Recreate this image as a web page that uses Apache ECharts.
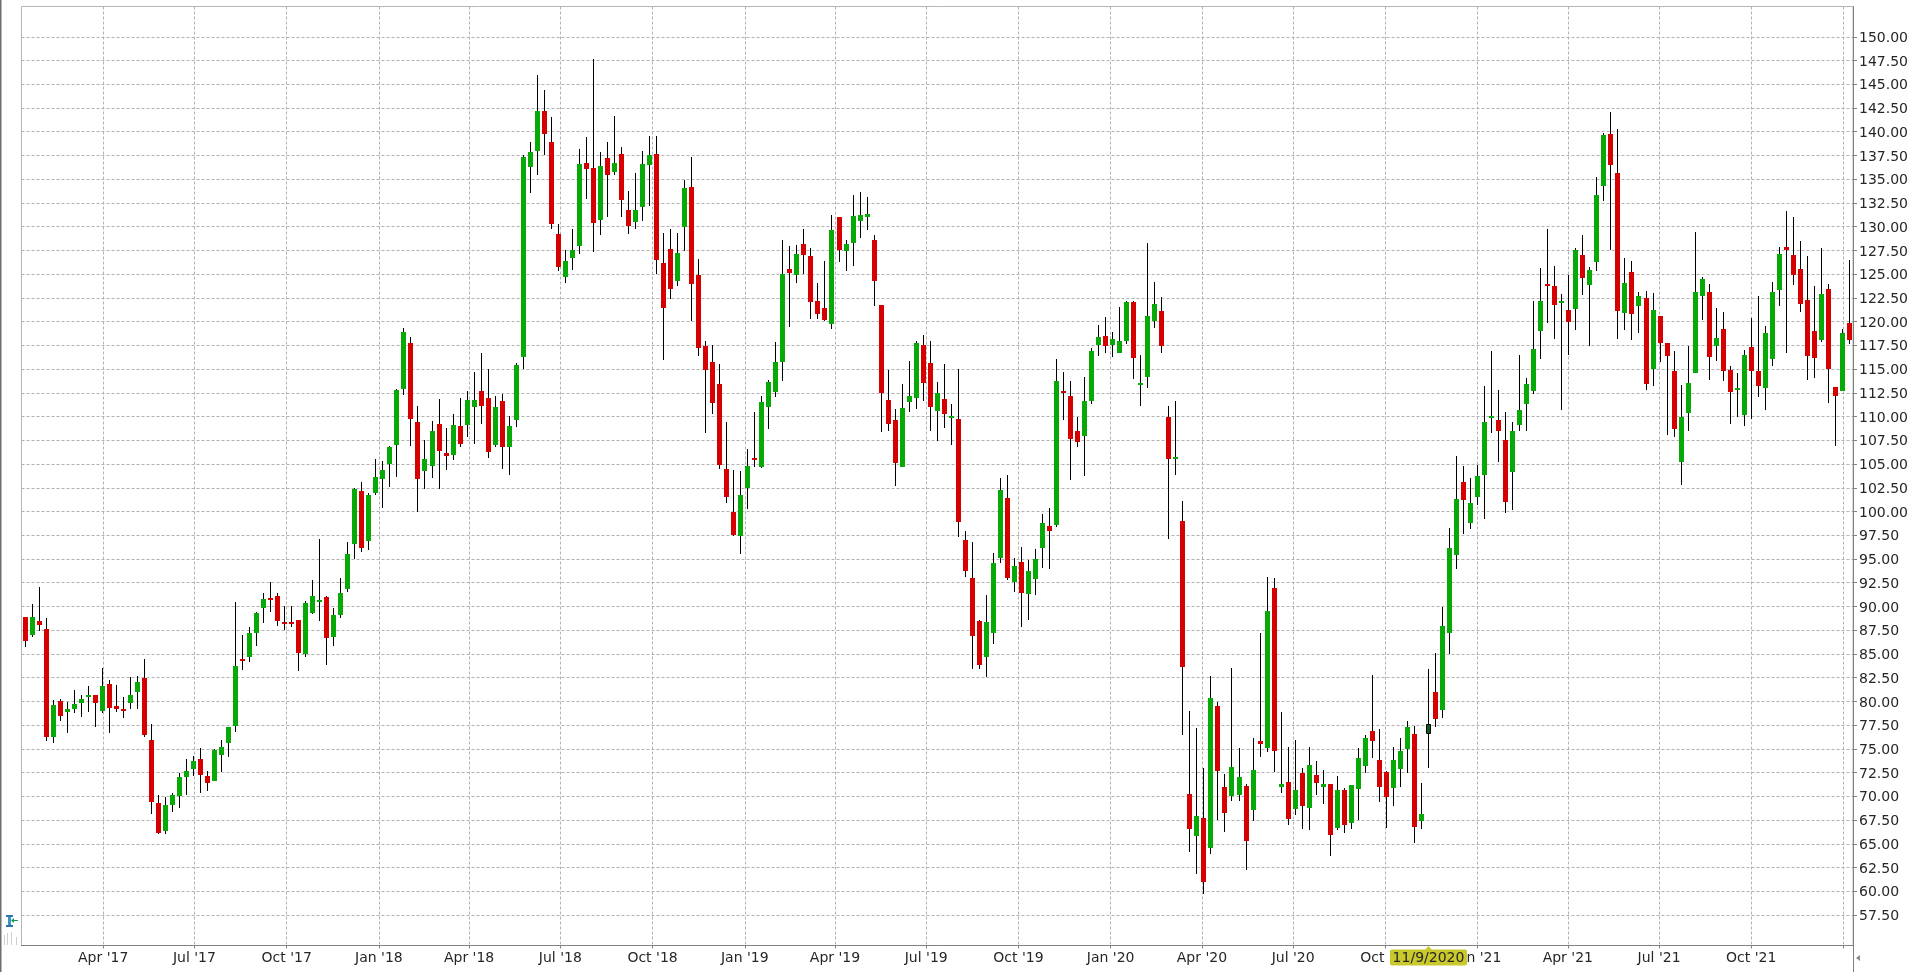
<!DOCTYPE html>
<html>
<head>
<meta charset="utf-8">
<title>Weekly candles</title>
<style>
  html, body { margin: 0; padding: 0; background: #fff; }
  #chart { width: 1911px; height: 972px; }
</style>
<script src="https://cdn.jsdelivr.net/npm/echarts@6/dist/echarts.min.js"></script>
</head>
<body>
<div id="chart"></div>
<script>
// weekly bars, oldest first
const opens = [
  88.93,87.04,88.51,87.67,76.23,80.09,78.86,79.17,79.80,80.54,
  80.72,78.96,81.88,79.56,79.24,79.80,80.96,82.51,75.98,69.35,
  66.33,69.14,70.01,72.01,72.86,73.98,72.19,71.59,74.40,75.59,
  77.38,84.51,84.65,87.18,89.81,90.93,91.14,88.41,88.41,88.62,
  84.97,89.28,90.44,91.04,86.76,89.07,91.81,96.62,102.16,96.86,
  101.95,103.43,105.01,107.01,112.90,117.74,109.43,104.27,104.79,109.22,
  106.16,105.95,109.01,109.11,111.00,112.69,111.95,107.01,111.64,106.80,
  109.64,116.27,136.27,137.96,142.17,138.90,129.22,124.69,126.69,127.95,
  136.69,136.17,130.69,137.22,135.74,137.64,131.74,130.48,132.06,136.48,
  137.64,126.16,127.64,124.27,129.95,134.17,124.90,117.43,115.74,113.43,
  104.48,99.98,97.45,102.51,105.66,104.72,111.03,112.61,115.77,125.56,
  124.93,128.19,126.93,122.19,121.45,119.77,131.04,127.45,128.30,130.61,
  131.04,128.61,121.77,111.77,109.66,104.72,111.56,111.98,117.56,115.67,
  110.61,111.88,109.88,109.77,97.03,93.03,88.46,84.67,87.20,95.14,
  101.45,92.61,94.72,91.35,92.93,96.19,98.51,98.61,112.72,112.19,
  108.51,107.98,111.64,117.53,118.48,117.53,116.69,117.96,122.06,113.32,
  114.16,120.06,121.11,109.95,105.53,99.01,70.22,65.80,67.69,64.53,
  79.48,70.95,70.01,70.11,71.06,68.53,75.80,75.06,91.90,70.95,
  71.48,68.64,72.43,68.74,72.22,70.95,71.27,66.64,70.64,67.17,
  70.74,73.17,76.85,73.80,72.53,70.85,72.85,74.95,76.53,67.38,
  76.53,80.95,79.06,87.20,95.43,103.06,98.75,101.48,103.80,109.80,
  109.59,107.48,104.11,109.12,111.33,112.70,119.01,123.96,123.75,121.96,
  121.23,121.33,127.01,123.86,126.28,134.28,139.75,135.65,120.91,125.23,
  121.65,122.49,115.01,120.59,117.75,114.80,105.22,110.38,114.59,122.70,
  123.12,117.43,119.22,114.91,112.80,110.17,117.33,114.80,113.02,116.07,
  123.33,127.86,127.01,125.54,122.28,119.01,118.07,123.43,113.12,112.70,119.86
]
const closes = [
  86.33,88.93,88.02,76.23,79.67,78.44,79.24,79.77,80.30,80.72,
  79.80,81.67,79.28,79.17,78.96,80.72,82.09,76.44,69.38,66.12,
  69.14,70.19,72.08,72.72,73.77,72.29,71.38,74.93,75.24,77.35,
  83.77,84.33,87.25,89.35,90.83,90.76,88.44,88.23,88.23,85.07,
  90.41,91.14,90.72,86.65,89.14,91.46,95.56,102.37,96.13,101.74,
  103.64,104.37,106.80,112.79,118.90,109.74,103.43,105.53,108.48,106.37,
  105.85,109.11,107.11,111.74,111.74,111.11,106.27,111.00,106.80,109.01,
  115.43,137.32,137.85,142.17,139.74,130.27,125.74,126.37,127.53,136.59,
  136.06,130.38,136.38,135.43,136.69,132.80,130.06,131.74,136.59,137.53,
  126.48,121.43,123.43,127.22,134.06,123.95,117.22,114.90,111.43,104.90,
  101.53,97.56,101.77,104.82,105.45,111.56,113.66,115.77,125.03,125.14,
  127.14,127.03,122.09,120.82,120.19,129.67,127.56,128.19,131.14,131.25,
  131.35,124.30,112.51,109.24,105.14,110.93,112.19,117.77,113.56,111.03,
  112.51,110.30,110.09,98.93,93.77,86.91,83.82,88.35,94.61,102.30,
  93.03,94.30,91.45,93.77,95.03,98.82,97.98,113.77,112.51,107.66,
  107.35,111.66,116.90,118.38,117.43,118.17,117.96,122.06,116.17,113.53,
  120.59,121.85,117.43,105.53,105.74,83.64,66.53,67.90,60.95,80.32,
  72.64,68.22,73.06,72.01,65.27,72.74,75.48,89.48,74.74,71.27,
  67.59,70.64,68.95,73.27,71.38,71.27,65.90,70.64,66.95,71.17,
  74.01,76.11,75.80,70.95,69.90,73.80,74.74,77.27,66.74,68.11,
  77.59,78.11,87.90,96.16,101.32,101.17,100.85,103.69,109.38,110.01,
  108.43,100.95,108.43,110.70,113.44,117.12,122.17,123.75,121.75,122.17,
  119.96,127.54,124.60,125.44,133.33,139.65,136.49,121.12,124.07,120.80,
  122.70,113.44,121.23,117.75,116.38,108.70,109.96,113.54,123.12,124.49,
  116.28,118.28,114.80,112.59,113.02,116.49,114.80,113.22,118.80,123.12,
  127.12,127.54,124.91,121.86,116.38,116.17,122.91,115.01,112.17,118.80,118.07
]
const lows = [
  85.70,86.76,87.39,75.80,75.59,77.98,76.65,78.75,78.33,78.86,
  77.28,78.75,76.65,78.86,78.23,79.17,79.17,76.23,68.12,66.01,
  66.01,68.33,68.75,70.19,72.12,70.33,70.54,71.59,72.61,74.12,
  76.75,83.28,84.12,85.81,88.23,89.39,87.91,87.49,87.81,83.18,
  84.68,89.18,88.44,83.81,85.81,88.76,91.49,94.97,95.71,95.92,
  101.74,100.37,102.58,103.64,112.27,106.90,99.95,102.37,103.53,102.37,
  104.37,105.43,106.80,107.85,107.11,109.22,105.64,106.80,104.48,103.85,
  108.90,115.01,133.53,135.43,137.53,129.74,125.32,124.06,125.43,127.11,
  132.90,127.32,129.11,131.01,135.43,131.01,129.22,129.74,130.59,132.17,
  125.01,115.95,122.37,123.74,127.43,120.06,116.38,108.27,110.27,104.48,
  100.90,97.38,95.56,100.29,104.72,104.61,108.72,112.09,113.77,119.45,
  124.09,125.03,120.30,120.30,120.09,119.24,126.30,125.35,125.88,128.82,
  129.67,121.66,108.40,108.51,102.72,104.72,110.51,110.82,111.67,108.51,
  107.45,108.82,107.03,97.35,93.14,83.40,83.40,82.56,86.03,94.61,
  92.82,91.56,87.87,88.61,91.24,94.09,93.98,98.40,109.66,103.35,
  106.82,103.77,111.32,116.38,116.69,116.27,116.69,117.64,113.95,111.11,
  113.01,119.32,116.69,97.11,103.85,76.43,64.11,61.80,59.69,63.90,
  67.48,66.22,69.48,69.48,62.22,67.38,74.11,74.64,72.53,70.32,
  66.95,68.01,66.53,66.43,70.11,69.17,63.69,66.43,66.11,66.53,
  67.48,72.43,74.01,69.38,66.64,68.95,70.95,72.43,65.06,66.53,
  72.95,77.27,78.22,85.00,93.95,97.59,98.11,100.64,99.17,108.22,
  105.17,99.80,100.21,108.49,108.49,112.38,116.07,119.86,118.17,110.70,
  116.49,119.12,122.81,117.43,125.33,132.70,127.54,118.17,119.12,118.07,
  118.80,112.80,113.22,115.75,108.07,107.86,102.80,108.49,114.59,120.17,
  113.86,115.86,113.75,109.22,109.96,109.01,109.75,112.07,110.70,115.33,
  121.65,116.70,123.86,121.02,113.86,114.07,117.86,111.43,106.91,112.70,117.65
]
const highs = [
  88.93,90.30,92.09,88.83,80.19,80.30,79.98,81.25,80.72,81.67,
  80.72,83.56,82.30,81.77,80.51,82.61,82.72,84.51,77.66,70.19,
  69.98,70.40,72.51,73.98,74.30,75.14,72.72,75.00,75.98,77.35,
  90.51,87.04,87.88,89.46,91.46,92.62,91.46,90.09,90.09,88.62,
  90.62,92.83,97.10,91.14,89.88,93.04,96.83,102.50,103.11,101.95,
  105.53,105.32,106.90,112.90,119.32,118.37,111.11,107.53,109.53,111.85,
  108.79,110.27,111.95,112.69,114.69,116.69,115.01,112.16,112.37,110.06,
  115.64,137.53,138.90,145.96,144.38,141.53,130.27,127.53,129.74,138.17,
  139.43,147.71,137.85,138.90,141.64,138.38,133.74,135.64,137.96,139.53,
  139.53,129.32,129.74,129.32,134.90,137.32,126.59,117.95,117.53,115.53,
  109.43,104.40,104.30,106.61,110.51,112.19,113.87,117.88,128.61,127.98,
  128.09,129.77,127.77,124.09,126.40,131.25,131.04,128.61,133.35,133.67,
  133.14,129.14,121.77,114.93,110.82,113.45,115.88,117.98,118.61,117.98,
  113.66,115.56,111.35,115.03,97.98,96.82,88.56,91.24,95.66,103.56,
  103.87,95.14,96.30,94.93,96.09,99.77,100.40,116.09,114.72,113.77,
  109.98,114.19,117.22,119.64,120.48,118.90,121.53,122.17,122.17,116.48,
  128.27,124.17,122.59,111.11,111.64,101.11,78.95,77.17,72.95,82.64,
  79.90,72.32,83.48,75.06,71.27,76.11,87.17,93.06,92.96,78.85,
  75.17,75.90,72.95,75.17,73.69,72.74,71.27,72.11,70.85,71.17,
  75.06,76.43,82.74,77.06,72.64,75.17,76.11,77.90,77.38,71.38,
  83.38,85.06,89.90,98.27,105.85,104.75,103.48,104.95,113.17,116.95,
  112.85,110.53,109.38,116.49,114.07,122.17,125.65,129.75,125.86,122.91,
  124.91,127.75,129.12,125.75,135.22,139.86,142.07,140.28,126.70,126.38,
  123.12,123.22,123.01,120.59,117.75,116.91,113.33,117.43,129.43,124.70,
  123.96,121.44,121.02,115.33,114.59,117.01,120.38,122.70,119.54,124.17,
  127.86,131.65,131.02,128.49,126.91,123.75,127.75,123.96,113.12,119.22,126.49
]

// price ticks
const priceTicks = [
  57.5,60,62.5,65,67.5,70,72.5,75,77.5,80,82.5,85,87.5,90,92.5,95,97.5,100,102.5,105,
  107.5,110,112.5,115,117.5,120,122.5,125,127.5,130,132.5,135,137.5,140,142.5,145,147.5,150
]
// quarter starts, the last one has a grid line but no label in the picture
const quarterDates = [
  '2017-04-01','2017-07-01','2017-10-01','2018-01-01','2018-04-01','2018-07-01','2018-10-01',
  '2019-01-01','2019-04-01','2019-07-01','2019-10-01','2020-01-01','2020-04-01','2020-07-01',
  '2020-10-01','2021-01-01','2021-04-01','2021-07-01','2021-10-01','2022-01-01'
]
const quarterLabels = [
  "Apr '17","Jul '17","Oct '17","Jan '18","Apr '18","Jul '18","Oct '18",
  "Jan '19","Apr '19","Jul '19","Oct '19","Jan '20","Apr '20","Jul '20",
  "Oct '20","Jan '21","Apr '21","Jul '21","Oct '21"
]
const selectedIndex = 200
const selectedLabel = '11/9/2020'

const weekIndexes = opens.map((o, i) => i)
const candleData = opens.map((o, i) => [i, o, closes[i], lows[i], highs[i]])
const quarterTicks = quarterDates.map(d => +new Date(d))

const UP_COLOR = '#06a906'
const DOWN_COLOR = '#d60000'
const GRID_LINE = { color: '#b2b2b2', width: 1, type: [3, 2] }
const FONT = 'DejaVu Sans'

const renderCandle = (params, api) => {
  const i = api.value(0)
  const open = api.value(1)
  const close = api.value(2)
  const x = Math.floor(api.coord([i, open])[0])
  const yOpen = Math.round(api.coord([i, open])[1])
  const yClose = Math.round(api.coord([i, close])[1])
  const yLow = Math.round(api.coord([i, api.value(3)])[1])
  const yHigh = Math.round(api.coord([i, api.value(4)])[1])
  const top = Math.min(yOpen, yClose)
  const height = Math.max(2, Math.abs(yOpen - yClose))
  const body = i === selectedIndex
    ? { type: 'rect', shape: { x: x - 1.5, y: top + 0.5, width: 4, height: height - 1 }, style: { fill: '#0f5c1c', stroke: '#000', lineWidth: 1 } }
    : { type: 'rect', shape: { x: x - 2, y: top, width: 5, height: height }, style: { fill: close >= open ? UP_COLOR : DOWN_COLOR } }
  return {
    type: 'group',
    children: [
      { type: 'rect', shape: { x: x, y: yHigh, width: 1, height: yLow - yHigh }, style: { fill: '#000' } },
      body
    ]
  }
}

const chart = echarts.init(document.getElementById('chart'), null, { renderer: 'canvas' })
chart.setOption({
  animation: false,
  backgroundColor: '#fff',
  grid: { left: 21.5, top: 6.5, width: 1832, height: 939, show: true, borderColor: '#b6b6b6', borderWidth: 1, backgroundColor: 'transparent' },
  xAxis: [
    {
      type: 'category',
      position: 'bottom',
      data: weekIndexes,
      show: false
    },
    {
      // linear date scale on the same grid, only for the quarter lines and labels
      type: 'value',
      position: 'bottom',
      min: +new Date('2017-01-09T12:00:00Z'),
      max: +new Date('2022-01-10T12:00:00Z'),
      axisLine: { show: true, onZero: false, lineStyle: { color: '#808080', width: 1 } },
      axisTick: { show: true, length: 3, customValues: quarterTicks, lineStyle: { color: '#808080' } },
      axisLabel: {
        customValues: quarterTicks.slice(0, quarterLabels.length),
        margin: 6,
        fontFamily: FONT,
        fontSize: 14,
        color: '#262626',
        formatter: (value) => quarterLabels[quarterTicks.indexOf(value)] || ''
      },
      splitLine: { show: true, lineStyle: GRID_LINE }
    }
  ],
  yAxis: {
    type: 'value',
    position: 'right',
    min: 54.29,
    max: 153.19,
    axisLine: { show: true, onZero: false, lineStyle: { color: '#808080', width: 1 } },
    axisTick: { show: true, length: 4, customValues: priceTicks, lineStyle: { color: '#808080' } },
    axisLabel: {
      customValues: priceTicks,
      margin: 6,
      verticalAlign: 'top',
      padding: [-5.5, 0, 0, 0],
      fontFamily: FONT,
      fontSize: 14,
      color: '#262626',
      formatter: (value) => value.toFixed(2)
    },
    splitLine: { show: true, lineStyle: GRID_LINE }
  },
  series: [
    {
      type: 'custom',
      xAxisIndex: 0,
      yAxisIndex: 0,
      data: candleData,
      encode: { x: 0, y: [1, 2, 3, 4] },
      renderItem: renderCandle,
      silent: true,
      clip: false,
      z: 5
    }
  ]
})

// date flag under the selected bar, side strip and the small corner glyphs
const flagX = Math.floor(chart.convertToPixel({ xAxisIndex: 0 }, selectedIndex)) + 0.5
const axisY = chart.convertToPixel({ yAxisIndex: 0 }, 54.29)
const axisX = chart.getModel().getComponent('grid').coordinateSystem.getRect().x + 1832
chart.setOption({
  graphic: [
    { type: 'rect', z: 20, shape: { x: 0, y: 0, width: 1.5, height: 972 }, style: { fill: '#6e6e6e' } },
    { type: 'line', z: 20, shape: { x1: axisX, y1: axisY, x2: axisX, y2: 972 }, style: { stroke: '#808080', lineWidth: 1 } },
    { type: 'polygon', z: 20, shape: { points: [[1856, 958], [1860, 955], [1860, 961]] }, style: { fill: '#8a8a8a' } },
    { type: 'polygon', z: 20, shape: { points: [[flagX, axisY + 0.5], [flagX - 4, axisY + 5], [flagX + 4, axisY + 5]] }, style: { fill: '#c9c92e' } },
    { type: 'rect', z: 20, shape: { x: flagX - 38.5, y: axisY + 4, width: 77, height: 16, r: 2 }, style: { fill: '#c9c92e' } },
    { type: 'text', z: 21, style: { x: flagX, y: axisY + 12.5, text: selectedLabel, align: 'center', verticalAlign: 'middle', font: '14px "DejaVu Sans"', fill: '#262626' } },
    // blue handle with the green arrow
    { type: 'rect', z: 20, shape: { x: 8, y: 915, width: 3, height: 12 }, style: { fill: '#3f8fc8' } },
    { type: 'rect', z: 20, shape: { x: 6, y: 915, width: 7, height: 2 }, style: { fill: '#2f74ad' } },
    { type: 'rect', z: 20, shape: { x: 6, y: 925, width: 7, height: 2 }, style: { fill: '#2f74ad' } },
    { type: 'rect', z: 20, shape: { x: 12, y: 920, width: 6, height: 1 }, style: { fill: '#10a050' } },
    { type: 'polygon', z: 20, shape: { points: [[11, 920.5], [14, 918], [14, 923]] }, style: { fill: '#10a050' } },
    // faint bars below it
    { type: 'rect', z: 20, shape: { x: 4, y: 935, width: 1, height: 10 }, style: { fill: '#d0d0d0' } },
    { type: 'rect', z: 20, shape: { x: 7, y: 933, width: 1, height: 12 }, style: { fill: '#d0d0d0' } },
    { type: 'rect', z: 20, shape: { x: 11, y: 932, width: 1, height: 13 }, style: { fill: '#d0d0d0' } },
    { type: 'rect', z: 20, shape: { x: 16, y: 937, width: 1, height: 8 }, style: { fill: '#d0d0d0' } }
  ]
})
</script>
</body>
</html>
